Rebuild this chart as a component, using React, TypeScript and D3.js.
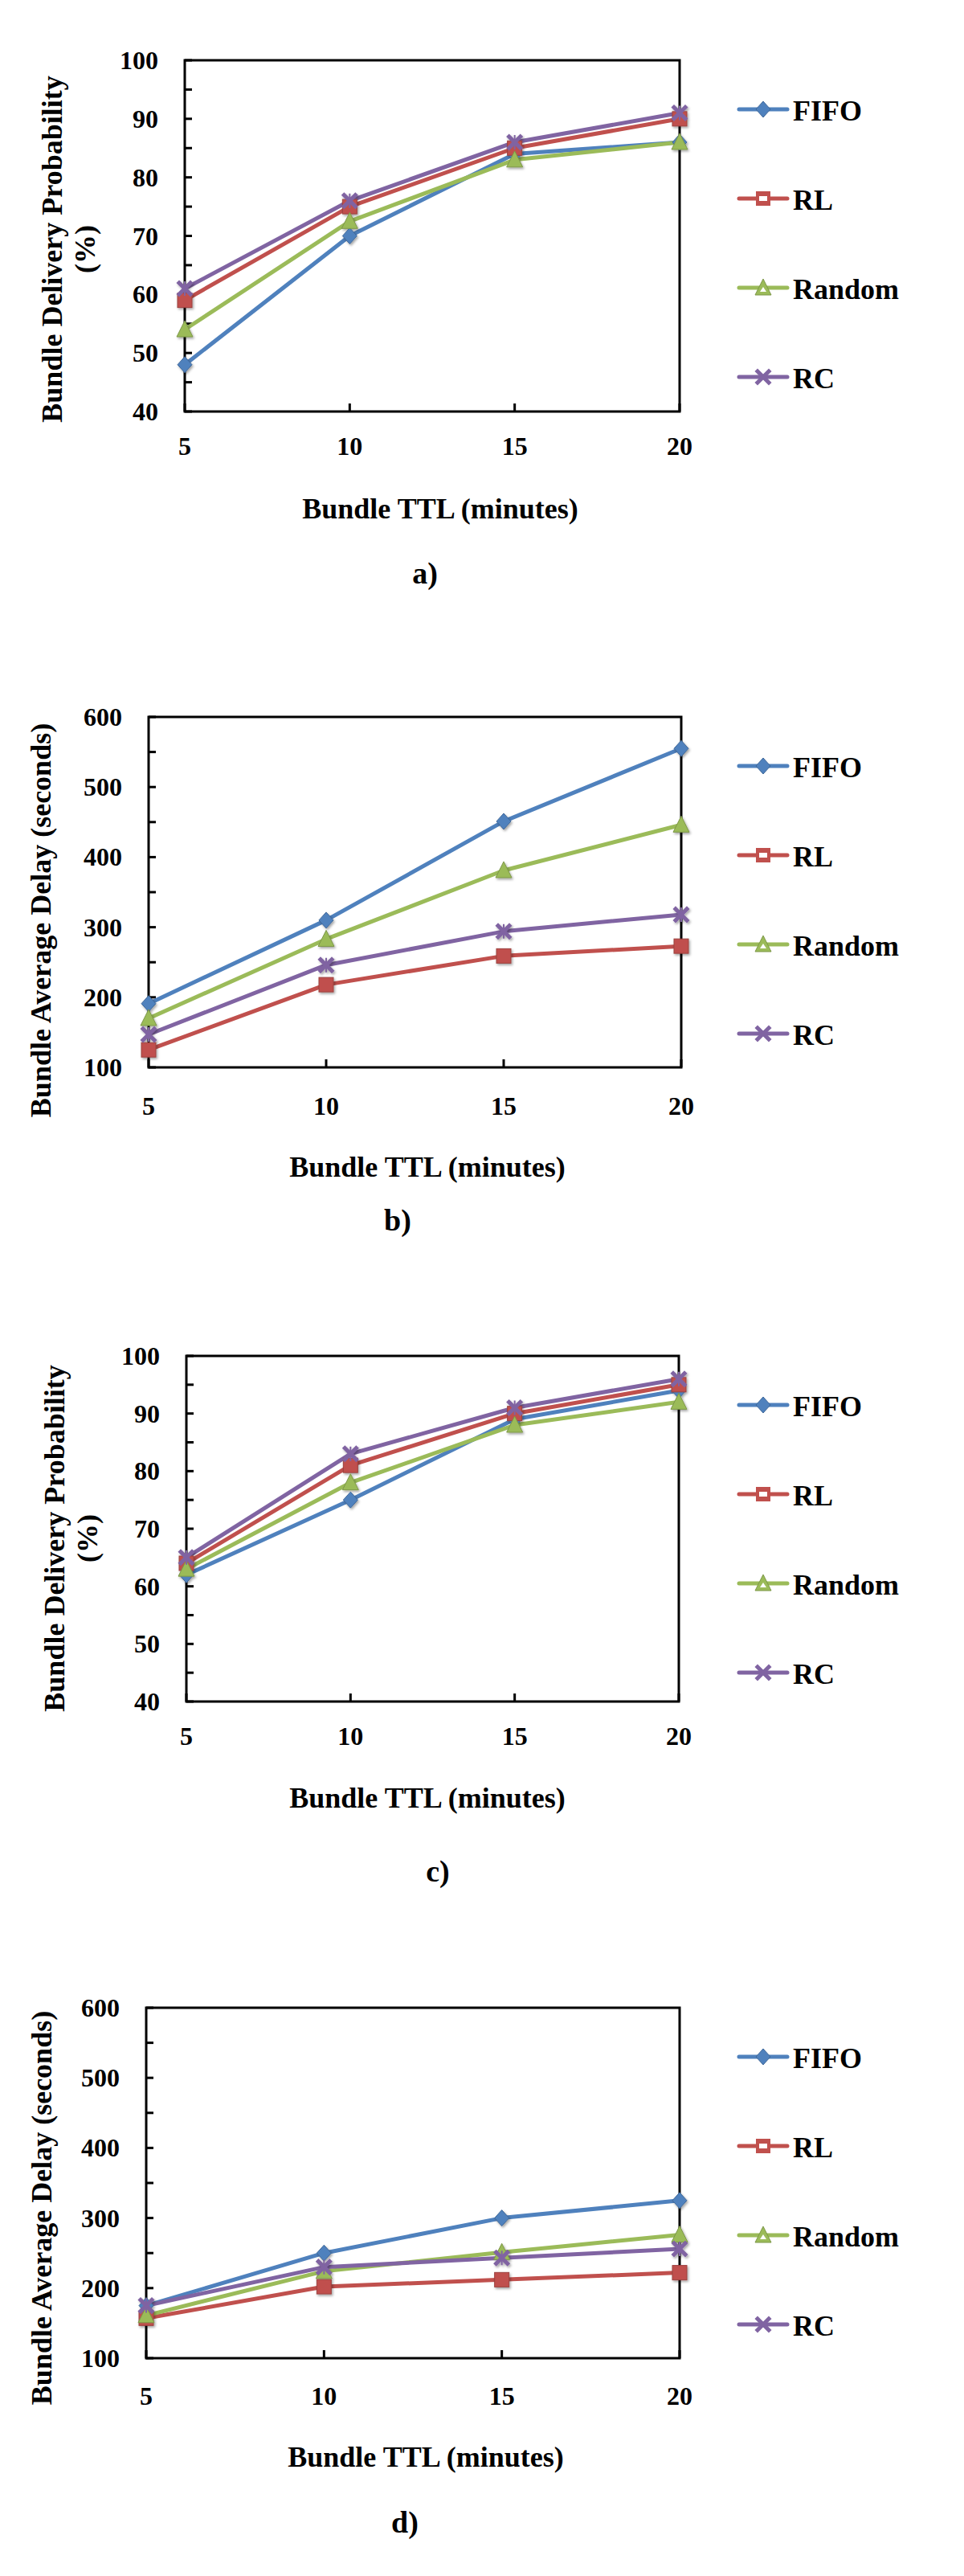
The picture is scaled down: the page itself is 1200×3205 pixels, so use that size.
import * as d3 from "d3";

// x categories (bundle TTL, minutes)
const ttl = [5, 10, 15, 20];
const seriesNames = ["FIFO", "RL", "Random", "RC"];

// a) delivery probability (%)
const aFIFO = [48, 70, 84, 86];
const aRL = [59, 75, 85, 90];
const aRandom = [54, 72.5, 83, 86];
const aRC = [61, 76, 86, 91];

// b) average delay (seconds)
const bFIFO = [191, 310, 451, 555];
const bRL = [125, 218, 259, 273];
const bRandom = [170, 283, 381, 446];
const bRC = [147, 246, 294, 318];

// c) delivery probability (%)
const cFIFO = [62, 75, 89, 94];
const cRL = [64, 81, 90, 95];
const cRandom = [63, 78, 88, 92];
const cRC = [65, 83, 91, 96];

// d) average delay (seconds)
const dFIFO = [175, 250, 300, 325];
const dRL = [157, 202, 212, 222];
const dRandom = [161, 224, 251, 276];
const dRC = [175, 230, 243, 256];

const probTicks = [40, 50, 60, 70, 80, 90, 100];
const probMinor = [45, 55, 65, 75, 85, 95];
const delayTicks = [100, 200, 300, 400, 500, 600];
const delayMinor = [150, 250, 350, 450, 550];

const colors = ["#4F81BD", "#C0504D", "#9BBB59", "#8064A2"];
const FONT = "'Liberation Serif', 'Times New Roman', serif";

const panels = [
  {
    id: "a", series: [aFIFO, aRL, aRandom, aRC],
    left: 230, right: 846, top: 75, bottom: 512,
    domain: [40, 100], ticks: probTicks, minor: probMinor,
    yTitle: ["Bundle Delivery Probability", "(%)"], yTitleX: [77, 118], yTitleCy: 310,
    xLabY: 566, xTitleX: 548, xTitleY: 645, tagX: 529, tagY: 726,
  },
  {
    id: "b", series: [bFIFO, bRL, bRandom, bRC],
    left: 185, right: 848, top: 892, bottom: 1328,
    domain: [100, 600], ticks: delayTicks, minor: delayMinor,
    yTitle: ["Bundle Average Delay (seconds)"], yTitleX: [63], yTitleCy: 1145,
    xLabY: 1387, xTitleX: 532, xTitleY: 1464, tagX: 495, tagY: 1531,
  },
  {
    id: "c", series: [cFIFO, cRL, cRandom, cRC],
    left: 232, right: 845, top: 1687, bottom: 2117,
    domain: [40, 100], ticks: probTicks, minor: probMinor,
    yTitle: ["Bundle Delivery Probability", "(%)"], yTitleX: [80, 121], yTitleCy: 1914,
    xLabY: 2171, xTitleX: 532, xTitleY: 2249, tagX: 545, tagY: 2341,
  },
  {
    id: "d", series: [dFIFO, dRL, dRandom, dRC],
    left: 182, right: 846, top: 2498, bottom: 2934,
    domain: [100, 600], ticks: delayTicks, minor: delayMinor,
    yTitle: ["Bundle Average Delay (seconds)"], yTitleX: [64], yTitleCy: 2747,
    xLabY: 2992, xTitleX: 530, xTitleY: 3069, tagX: 504, tagY: 3151,
  },
];

function Marker({ kind, x, y, color, hollow }: { kind: number; x: number; y: number; color: string; hollow?: boolean }) {
  const s = 9;
  const edge = d3.color(color)!.darker(0.6).toString();
  if (kind === 0) {
    return (
      <path d={`M${x},${y - s - 1}L${x + s},${y}L${x},${y + s + 1}L${x - s},${y}Z`} fill={color} stroke={edge} strokeWidth={1} />
    );
  }
  if (kind === 1) {
    return hollow ? (
      <g>
        <rect x={x - 9} y={y - 9} width={18} height={18} fill={color} />
        <rect x={x - 5} y={y - 3} width={10} height={6} fill="#fff" />
      </g>
    ) : (
      <rect x={x - s} y={y - s} width={2 * s} height={2 * s} fill={color} stroke={edge} strokeWidth={1} />
    );
  }
  if (kind === 2) {
    return (
      <g>
        <path d={`M${x},${y - s - 2}L${x + s + 1},${y + s}L${x - s - 1},${y + s}Z`} fill={color} stroke={edge} strokeWidth={1} />
        {hollow && <path d={`M${x},${y - 1}L${x + 4},${y + 5}L${x - 4},${y + 5}Z`} fill="#fff" />}
      </g>
    );
  }
  return (
    <g stroke={color} strokeWidth={5} strokeLinecap="square">
      <line x1={x - 7} y1={y - 7} x2={x + 7} y2={y + 7} />
      <line x1={x - 7} y1={y + 7} x2={x + 7} y2={y - 7} />
      {!hollow && <line x1={x} y1={y - 8} x2={x} y2={y + 8} strokeWidth={2} />}
    </g>
  );
}

function Panel({ p }: { p: (typeof panels)[number] }) {
  const x = d3.scalePoint<number>().domain(ttl).range([p.left, p.right]);
  const y = d3.scaleLinear().domain(p.domain).range([p.bottom, p.top]);
  const line = d3
    .line<number>()
    .x((_, i) => x(ttl[i])!)
    .y((d) => y(d));

  return (
    <g>
      {/* plot frame */}
      <rect x={p.left} y={p.top} width={p.right - p.left} height={p.bottom - p.top} fill="none" stroke="#000" strokeWidth={3} />
      {/* y ticks (inside) */}
      {[...p.ticks, ...p.minor].map((t) => (
        <line key={"yt" + t} x1={p.left} x2={p.left + 9} y1={y(t)} y2={y(t)} stroke="#000" strokeWidth={3} />
      ))}
      {p.ticks.map((t) => (
        <text key={"yl" + t} x={p.left - 33} y={y(t) + 11} textAnchor="end" fontSize={32} fontWeight="bold" fontFamily={FONT}>
          {t}
        </text>
      ))}
      {/* x ticks */}
      {ttl.map((t) => (
        <line key={"xt" + t} x1={x(t)} x2={x(t)} y1={p.bottom} y2={p.bottom - 10} stroke="#000" strokeWidth={3} />
      ))}
      {ttl.map((t) => (
        <text key={"xl" + t} x={x(t)} y={p.xLabY} textAnchor="middle" fontSize={32} fontWeight="bold" fontFamily={FONT}>
          {t}
        </text>
      ))}
      {/* series */}
      {p.series.map((vals, si) => (
        <path key={"s" + si} d={line(vals)!} fill="none" stroke={colors[si]} strokeWidth={5} strokeLinejoin="round" />
      ))}
      <g filter="url(#shadow)">
        {p.series.map((vals, si) =>
          vals.map((v, i) => <Marker key={si + "-" + i} kind={si} x={x(ttl[i])!} y={y(v)} color={colors[si]} />)
        )}
      </g>
      {/* axis titles */}
      {p.yTitle.map((t, i) => (
        <text
          key={"ytt" + i}
          transform={`translate(${p.yTitleX[i]},${p.yTitleCy}) rotate(-90)`}
          textAnchor="middle"
          fontSize={36}
          fontWeight="bold"
          fontFamily={FONT}
        >
          {t}
        </text>
      ))}
      <text x={p.xTitleX} y={p.xTitleY} textAnchor="middle" fontSize={36} fontWeight="bold" fontFamily={FONT}>
        Bundle TTL (minutes)
      </text>
      <text x={p.tagX} y={p.tagY} textAnchor="middle" fontSize={38} fontWeight="bold" fontFamily={FONT}>
        {p.id})
      </text>
      {/* legend */}
      {seriesNames.map((name, i) => {
        const ly = p.top + 61 + i * 111;
        return (
          <g key={"lg" + name}>
            <line x1={920} x2={980} y1={ly} y2={ly} stroke={colors[i]} strokeWidth={5} strokeLinecap="round" />
            <Marker kind={i} x={950} y={ly} color={colors[i]} hollow />
            <text x={987} y={ly + 14} fontSize={36} fontWeight="bold" fontFamily={FONT}>
              {name}
            </text>
          </g>
        );
      })}
    </g>
  );
}

export default function App() {
  return (
    <svg width={1200} height={3205} style={{ position: "absolute", left: 0, top: 0, background: "#fff" }}>
      <defs>
        <filter id="shadow" x="-50%" y="-50%" width="200%" height="200%">
          <feDropShadow dx={1.5} dy={2} stdDeviation={1.5} floodColor="#000" floodOpacity={0.35} />
        </filter>
      </defs>
      <rect width={1200} height={3205} fill="#fff" />
      {panels.map((p) => (
        <Panel key={p.id} p={p} />
      ))}
    </svg>
  );
}
